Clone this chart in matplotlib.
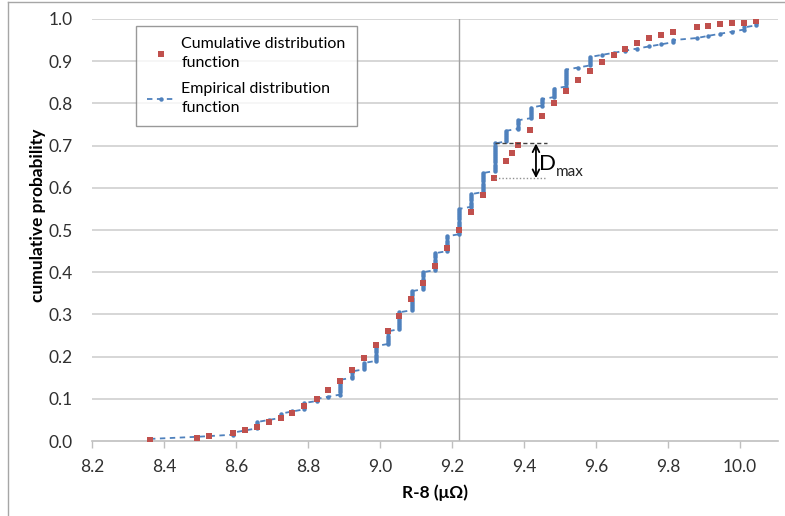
import matplotlib.pyplot as plt
import numpy as np

plt.rcParams['font.family'] = ['Lato', 'DejaVu Sans']

C_RED = '#C0504D'
C_BLUE = '#4F81BD'
C_GRID = '#d0d0d0'

# 정규분포 CDF (빨간 사각형)
cdf_x = [8.361, 8.492, 8.525, 8.592, 8.625, 8.658, 8.692, 8.725, 8.756, 8.789,
         8.825, 8.856, 8.889, 8.922, 8.956, 8.989, 9.022, 9.053, 9.086, 9.119,
         9.153, 9.186, 9.219, 9.253, 9.286, 9.317, 9.350, 9.367, 9.383, 9.417,
         9.450, 9.483, 9.517, 9.550, 9.583, 9.617, 9.650, 9.681, 9.714, 9.747,
         9.781, 9.814, 9.881, 9.911, 9.944, 9.978, 10.011, 10.044]
cdf_y = [0.002, 0.007, 0.012, 0.019, 0.026, 0.033, 0.045, 0.055, 0.066, 0.083,
         0.100, 0.121, 0.142, 0.168, 0.197, 0.227, 0.261, 0.296, 0.336, 0.374,
         0.415, 0.457, 0.500, 0.543, 0.583, 0.623, 0.664, 0.682, 0.701, 0.737,
         0.770, 0.801, 0.829, 0.855, 0.877, 0.898, 0.915, 0.929, 0.943, 0.955,
         0.962, 0.969, 0.981, 0.983, 0.988, 0.991, 0.991, 0.995]

# 측정값 (고유값과 개수) -> 경험적 분포 함수
meas_x = [8.361, 8.492, 8.592, 8.625, 8.658, 8.692, 8.725, 8.756, 8.789, 8.825,
          8.856, 8.889, 8.922, 8.956, 8.989, 9.022, 9.053, 9.089, 9.119, 9.153,
          9.186, 9.219, 9.253, 9.286, 9.319, 9.350, 9.383, 9.419, 9.450, 9.483,
          9.517, 9.550, 9.583, 9.617, 9.650, 9.681, 9.714, 9.747, 9.781, 9.814,
          9.881, 9.911, 9.944, 9.978, 10.011, 10.044]
meas_count = [1, 1, 2, 1, 4, 1, 3, 1, 4, 2,
              1, 8, 4, 4, 8, 7, 9, 10, 9, 9,
              8, 13, 7, 10, 14, 6, 5, 6, 4, 5,
              9, 1, 5, 1, 1, 1, 1, 1, 1, 2,
              1, 1, 1, 1, 2, 4]
mean_x = 9.22

x_ticks = [8.2, 8.4, 8.6, 8.8, 9.0, 9.2, 9.4, 9.6, 9.8, 10.0]
y_ticks = [0.0, 0.1, 0.2, 0.3, 0.4, 0.5, 0.6, 0.7, 0.8, 0.9, 1.0]

# EDF 포인트
n = sum(meas_count)
edf_x = np.repeat(meas_x, meas_count)
edf_y = np.arange(1, n + 1) / n

fig = plt.figure(figsize=(7.85, 5.16), dpi=100)
ax = fig.add_axes([0.1172, 0.1453, 0.8738, 0.8179])

# 차트 테두리
fig.add_artist(plt.Line2D([0.0102, 0.0102], [0, 0.997], color='#a6a6a6', lw=1, transform=fig.transFigure))
fig.add_artist(plt.Line2D([0.0102, 1], [0.997, 0.997], color='#a6a6a6', lw=1, transform=fig.transFigure))

for yt in y_ticks[1:]:
    ax.axhline(yt, color=C_GRID, lw=1.2, zorder=0)
ax.axvline(mean_x, color='#a0a0a0', lw=1, zorder=0)

ax.plot(edf_x, edf_y, color=C_BLUE, linestyle=(0, (3, 2.5)), lw=1.3,
        marker='o', markersize=3.2, markeredgewidth=0,
        label='Empirical distribution\nfunction', zorder=2)
ax.plot(cdf_x, cdf_y, linestyle='none', marker='s', markersize=4.6,
        color=C_RED, markeredgewidth=0, label='Cumulative distribution\nfunction', zorder=3)

# D_max 계산
cum_top = np.cumsum(meas_count) / n
best = None
for xi, top in zip(meas_x, cum_top):
    j = int(np.argmin(np.abs(np.array(cdf_x) - xi)))
    if abs(cdf_x[j] - xi) < 0.005:
        d = top - cdf_y[j]
        if best is None or d > best[0]:
            best = (d, xi, top, cdf_y[j])
_, xd, ytop, ybot = best
x_end = xd + 0.145
ymid = (ytop + ybot) / 2
ax.plot([xd, x_end], [ytop, ytop], color='#404040', lw=1, linestyle=(0, (3, 2)), zorder=4)
ax.plot([xd, x_end], [ybot, ybot], color='#909090', lw=1, linestyle=(0, (1, 1.5)), zorder=4)
ax.annotate('', xy=(xd + 0.114, ybot), xytext=(xd + 0.114, ytop),
            arrowprops=dict(arrowstyle='<->', color='black', lw=1.3, shrinkA=0, shrinkB=0,
                            mutation_scale=12), zorder=5)
ax.text(xd + 0.122, ymid - 0.008, 'D', fontsize=16, va='center', ha='left', color='black')
ax.text(xd + 0.168, ymid - 0.027, 'max', fontsize=11, va='center', ha='left', color='#222222')

ax.set_xlim(8.2, 10.105)
ax.set_ylim(0, 1.0)
ax.set_xticks(x_ticks)
ax.set_xticklabels([f'{v:.1f}' for v in x_ticks])
ax.set_yticks(y_ticks)
ax.set_yticklabels([f'{v:.1f}' for v in y_ticks])

for s in ['top', 'right', 'left']:
    ax.spines[s].set_visible(False)
ax.spines['bottom'].set_color('#bfbfbf')
ax.spines['bottom'].set_linewidth(1.2)
ax.tick_params(axis='x', length=5, color='#bfbfbf', width=1, pad=8, labelsize=12.5, labelcolor='#303030')
ax.tick_params(axis='y', length=0, pad=14, labelsize=12.5, labelcolor='#303030')

ax.set_xlabel('R-8 (\u03bc\u03a9)', fontsize=12.5, fontweight='bold')
ax.xaxis.set_label_coords(0.5, -0.123)
ax.xaxis.label.set_va('center')
ax.set_ylabel('cumulative probability', fontsize=12.5, fontweight='bold')
ax.yaxis.set_label_coords(-0.079, 0.536)
ax.yaxis.label.set_va('center')

handles, labels = ax.get_legend_handles_labels()
leg = ax.legend(handles[::-1], labels[::-1], loc='upper left', bbox_to_anchor=(0.064, 0.983),
                borderaxespad=0, fontsize=11.5, frameon=True, fancybox=False,
                edgecolor='#808080', handlelength=1.7, labelspacing=0.75,
                borderpad=0.7, handletextpad=0.45)
leg.get_frame().set_linewidth(1)
for t in leg.get_texts():
    t.set_linespacing(1.45)

plt.savefig('out.png', dpi=100)
